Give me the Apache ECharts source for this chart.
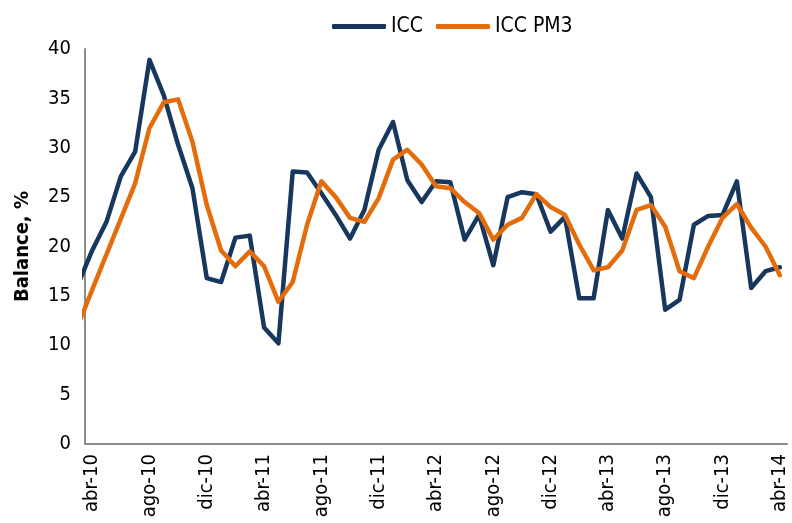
<!DOCTYPE html>
<html>
<head>
<meta charset="utf-8">
<script src="https://cdn.jsdelivr.net/npm/echarts@6/dist/echarts.min.js"></script>
<style>html,body{margin:0;padding:0;background:#fff;}#c{width:792px;height:523px;}</style>
</head>
<body>
<div id="c"></div>
<script>
// Months from mar-10 (partly clipped at the left edge) to abr-14
const months = ["mar-10","abr-10","may-10","jun-10","jul-10","ago-10","sep-10","oct-10","nov-10","dic-10",
  "ene-11","feb-11","mar-11","abr-11","may-11","jun-11","jul-11","ago-11","sep-11","oct-11","nov-11","dic-11",
  "ene-12","feb-12","mar-12","abr-12","may-12","jun-12","jul-12","ago-12","sep-12","oct-12","nov-12","dic-12",
  "ene-13","feb-13","mar-13","abr-13","may-13","jun-13","jul-13","ago-13","sep-13","oct-13","nov-13","dic-13",
  "ene-14","feb-14","mar-14","abr-14"];
const icc = [16.1, 19.6, 22.5, 27.1, 29.6, 38.9, 35.3, 30.3, 25.9, 16.8, 16.4, 20.9, 21.1, 11.8, 10.2, 27.6, 27.5,
  25.4, 23.2, 20.8, 23.7, 29.8, 32.6, 26.7, 24.5, 26.6, 26.5, 20.7, 23.2, 18.1, 25.0, 25.5, 25.3, 21.5, 23.0,
  14.75, 14.75, 23.7, 20.8, 27.4, 25.0, 13.6, 14.6, 22.2, 23.1, 23.2, 26.6, 15.8, 17.5, 17.9];
const iccPm3 = [12.0, 15.6, 19.2, 22.8, 26.4, 32.0, 34.6, 34.9, 30.6, 24.2, 19.6, 18.0, 19.5, 18.0, 14.4, 16.4, 22.2,
  26.6, 25.0, 22.9, 22.5, 24.9, 28.8, 29.8, 28.3, 26.1, 25.9, 24.5, 23.4, 20.7, 22.2, 22.9, 25.3, 24.0, 23.2,
  20.2, 17.6, 17.9, 19.6, 23.7, 24.2, 22.0, 17.5, 16.8, 20.0, 22.9, 24.3, 21.9, 20.0, 17.1];
const tickLabels = ["abr-10","ago-10","dic-10","abr-11","ago-11","dic-11","abr-12","ago-12","dic-12","abr-13","ago-13","dic-13","abr-14"];
const yTicks = [0,5,10,15,20,25,30,35,40];

const FONT = "DejaVu Sans Condensed, DejaVu Sans, sans-serif";
const xOf = name => months.indexOf(name) - 1;
const toPairs = arr => arr.map((v, k) => [k - 1, v]);

const chart = echarts.init(document.getElementById('c'), null, {renderer: 'canvas'});
chart.setOption({
  animation: false,
  backgroundColor: '#ffffff',
  grid: {left: 85, right: 5, top: 49, bottom: 79, containLabel: false},
  legend: {
    top: 11, left: 327,
    icon: 'roundRect',
    itemWidth: 54, itemHeight: 5, itemGap: 13,
    textStyle: {fontFamily: FONT, fontSize: 21, color: '#000'},
    data: ['ICC', 'ICC PM3']
  },
  xAxis: {
    type: 'value',
    min: -0.5, max: 48.5,
    splitLine: {show: false},
    axisTick: {show: false},
    axisLine: {show: true, onZero: false, lineStyle: {color: '#8c8c8c', width: 2}},
    axisLabel: {
      customValues: tickLabels.map(xOf),
      rotate: 90,
      margin: 10,
      fontFamily: FONT, fontSize: 20, color: '#000',
      formatter: v => months[Math.round(v) + 1]
    }
  },
  yAxis: {
    type: 'value',
    min: yTicks[0], max: yTicks[yTicks.length - 1], interval: 5,
    name: 'Balance, %',
    nameLocation: 'middle',
    nameGap: 52,
    nameTextStyle: {fontFamily: FONT, fontSize: 20, fontWeight: 'bold', color: '#000'},
    splitLine: {show: false},
    axisTick: {show: false},
    axisLine: {show: true, onZero: false, lineStyle: {color: '#8c8c8c', width: 2}},
    axisLabel: {fontFamily: FONT, fontSize: 20, color: '#000', margin: 14}
  },
  series: [
    {
      name: 'ICC', type: 'line', data: toPairs(icc), symbol: 'none', clip: true,
      lineStyle: {color: '#17375E', width: 4.5, cap: 'round', join: 'round'},
      itemStyle: {color: '#17375E'}
    },
    {
      name: 'ICC PM3', type: 'line', data: toPairs(iccPm3), symbol: 'none', clip: true,
      lineStyle: {color: '#E46C0A', width: 4.5, cap: 'round', join: 'round'},
      itemStyle: {color: '#E46C0A'}
    }
  ]
});
</script>
</body>
</html>
